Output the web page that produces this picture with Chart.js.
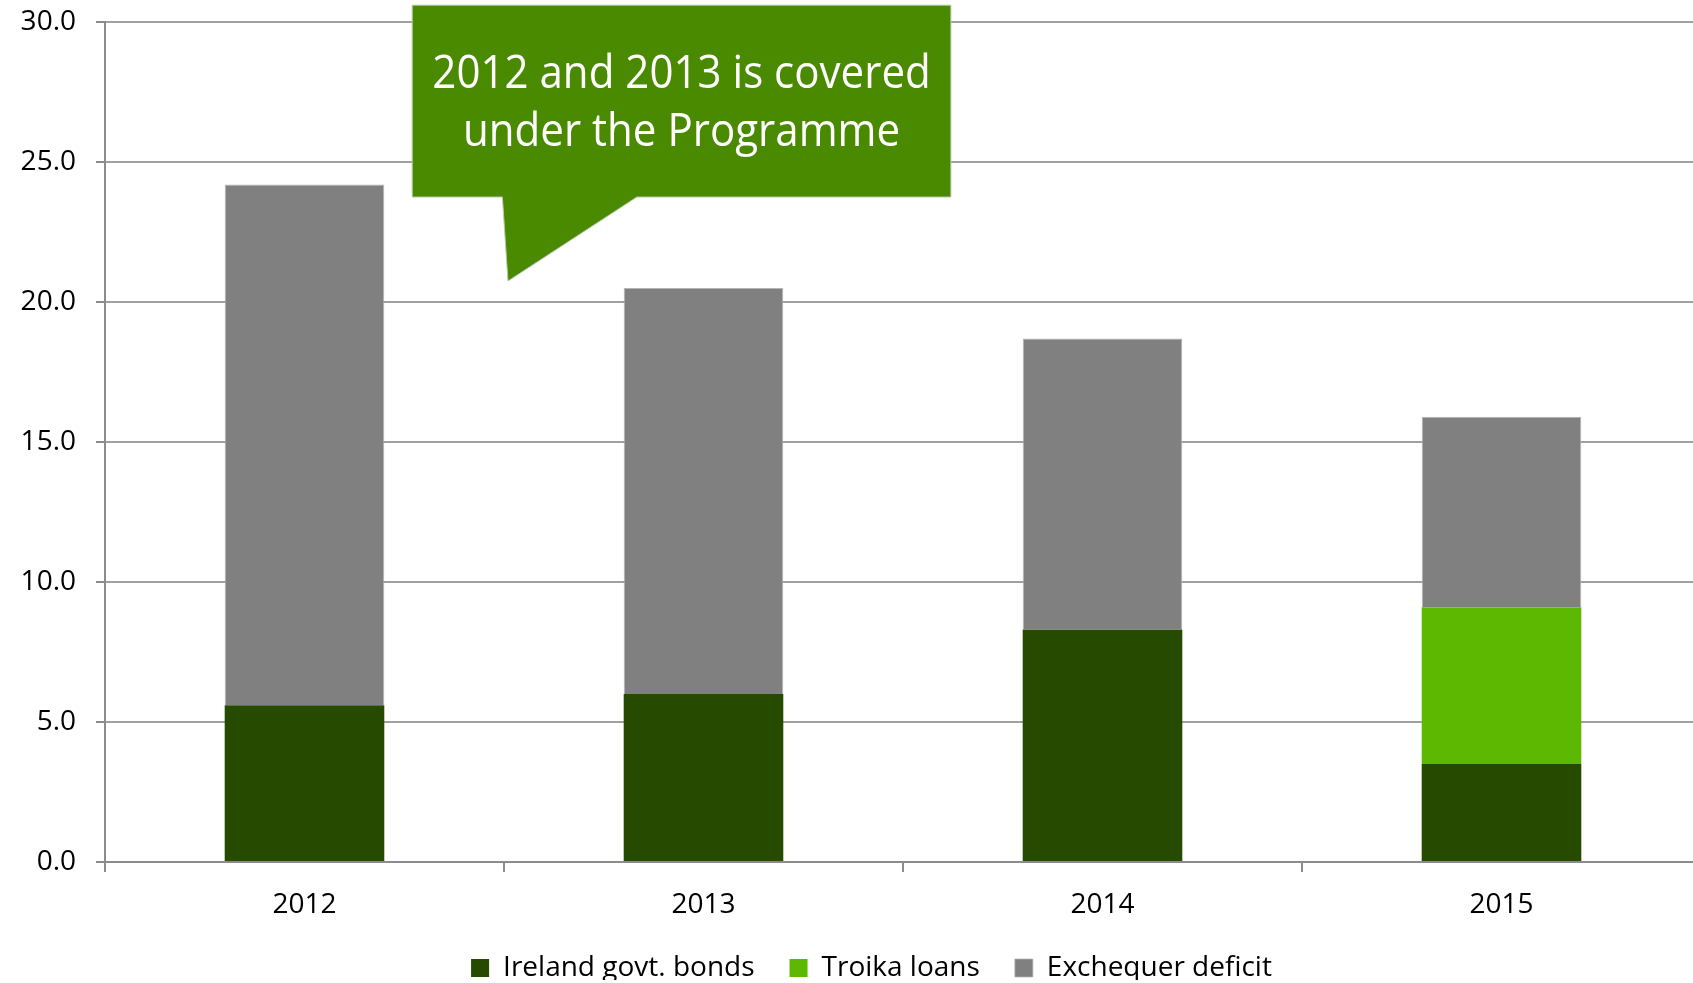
<!DOCTYPE html>
<html>
<head>
<meta charset="utf-8">
<script src="https://cdn.jsdelivr.net/npm/chart.js@4"></script>
<style>
  html, body { margin: 0; padding: 0; background: #fff; overflow: hidden; }
  #wrap { position: absolute; left: 0; top: 0; width: 1742px; height: 983px; }
</style>
</head>
<body>
<div id="wrap"><canvas id="c"></canvas></div>
<script>
const years = ['2012', '2013', '2014', '2015'];
const irelandBonds = [5.6, 6.0, 8.3, 3.5];
const troikaLoans = [0, 0, 0, 5.6];
const exchequerDeficit = [18.6, 14.5, 10.4, 6.8];
const seriesNames = ['Ireland govt. bonds', 'Troika loans', 'Exchequer deficit'];
const yTicks = [0, 5, 10, 15, 20, 25, 30];
const calloutLines = ['2012 and 2013 is covered', 'under the Programme'];

const FONT = "'Open Sans', 'DejaVu Sans', sans-serif";
const LEGEND_PAD = 35;

const legendPlace = {
  id: 'legendPlace',
  afterLayout(chart) {
    const lg = chart.legend;
    if (!lg) return;
    const h = lg.bottom - lg.top;
    lg.top = 968 - LEGEND_PAD - 14;
    lg.bottom = lg.top + h;
    lg.left += 21;
    lg.right += 21;
  }
};

const calloutPlugin = {
  id: 'callout',
  afterDatasetsDraw(chart) {
    const {ctx, scales: {x, y}} = chart;
    const left = x.getPixelForValue(0.27), right = x.getPixelForValue(1.62);
    const top = y.getPixelForValue(30.6), bottom = y.getPixelForValue(23.75);
    const tb1 = x.getPixelForValue(0.496), tb2 = x.getPixelForValue(0.833);
    const tipX = x.getPixelForValue(0.51), tipY = y.getPixelForValue(20.75);
    ctx.save();
    ctx.beginPath();
    ctx.moveTo(left, top);
    ctx.lineTo(right, top);
    ctx.lineTo(right, bottom);
    ctx.lineTo(tb2, bottom);
    ctx.lineTo(tipX, tipY);
    ctx.lineTo(tb1, bottom);
    ctx.lineTo(left, bottom);
    ctx.closePath();
    ctx.fillStyle = '#4a8a00';
    ctx.fill();
    ctx.lineWidth = 1;
    ctx.strokeStyle = '#b8c8a8';
    ctx.stroke();
    ctx.fillStyle = '#ffffff';
    ctx.font = '45px ' + FONT;
    ctx.textAlign = 'center';
    ctx.textBaseline = 'alphabetic';
    const cx = (left + right) / 2;
    const sx = 0.935;
    calloutLines.forEach((t, i) => {
      ctx.save();
      ctx.translate(cx, top + 83 + i * 58);
      ctx.scale(sx, 1);
      ctx.fillText(t, 0, 0);
      ctx.restore();
    });
    ctx.restore();
  }
};

new Chart(document.getElementById('c'), {
  type: 'bar',
  data: {
    labels: years,
    datasets: [
      { label: seriesNames[0], data: irelandBonds, backgroundColor: '#264b00', borderWidth: 0 },
      { label: seriesNames[1], data: troikaLoans, backgroundColor: '#5cb800', borderWidth: 0 },
      { label: seriesNames[2], data: exchequerDeficit, backgroundColor: '#808080', borderColor: '#b4b4b4', borderWidth: {top: 1, left: 1, right: 1, bottom: 0} }
    ]
  },
  options: {
    responsive: true,
    maintainAspectRatio: false,
    animation: false,
    layout: { padding: { left: 0, right: 41, top: 22, bottom: 0 } },
    datasets: { bar: { barPercentage: 0.4, categoryPercentage: 1.0 } },
    plugins: {
      tooltip: { enabled: false },
      legend: {
        position: 'bottom',
        maxHeight: 61,
        labels: {
          boxWidth: 18, boxHeight: 18, padding: LEGEND_PAD,
          color: '#000', font: { family: FONT, size: 28 }
        }
      }
    },
    scales: {
      x: {
        stacked: true,
        offset: true,
        grid: { display: true, drawOnChartArea: false, drawTicks: true, tickLength: 10, color: '#8c8c8c', lineWidth: 2, offset: true },
        border: { display: true, color: '#8c8c8c', width: 2 },
        ticks: { color: '#000', padding: 16, font: { family: FONT, size: 28 }, maxRotation: 0 },
        afterFit(s) { s.height = 60; s.paddingLeft = 0; s.paddingRight = 0; }
      },
      y: {
        stacked: true,
        min: 0, max: 30,
        afterBuildTicks(s) { s.ticks = yTicks.map(v => ({ value: v })); },
        grid: { color: '#a0a0a0', lineWidth: 2, drawTicks: true, tickLength: 9, tickColor: '#8c8c8c' },
        border: { display: true, color: '#8c8c8c', width: 2 },
        ticks: { color: '#000', padding: 20, font: { family: FONT, size: 28 }, callback: v => Number(v).toFixed(1) },
        afterFit(s) { s.width = 105; s.paddingTop = 0; s.paddingBottom = 0; }
      }
    }
  },
  plugins: [legendPlace, calloutPlugin]
});
</script>
</body>
</html>
